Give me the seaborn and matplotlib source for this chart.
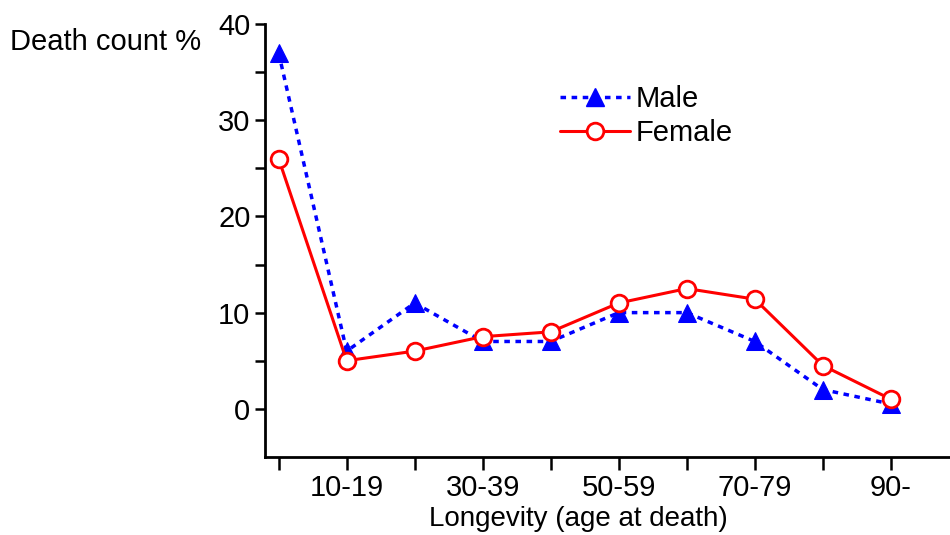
import matplotlib
matplotlib.use("Agg")
import matplotlib.pyplot as plt
import seaborn as sns
import pandas as pd
from matplotlib.lines import Line2D

categories = ["0-9", "10-19", "20-29", "30-39", "40-49", "50-59", "60-69", "70-79", "80-89", "90-"]
male = [37, 6, 11, 7, 7, 10, 10, 7, 2, 0.5]
female = [26, 5, 6, 7.5, 8, 11, 12.5, 11.4, 4.5, 1]
tick_labels = ["", "10-19", "", "30-39", "", "50-59", "", "70-79", "", "90-"]
y_ticks = [0, 10, 20, 30, 40]

sns.set_style("ticks")
plt.rcParams['font.family'] = ['Liberation Sans', 'DejaVu Sans']
plt.rcParams['text.color'] = 'black'
plt.rcParams['axes.labelcolor'] = 'black'

df = pd.DataFrame({
    "Longevity": categories * 2,
    "Death": male + female,
    "Sex": ["Male"] * len(categories) + ["Female"] * len(categories),
})

fig = plt.figure(figsize=(9.5, 5.35), dpi=100)
ax = fig.add_axes([0.279, 0.146, 0.721, 0.809])

sns.lineplot(data=df[df.Sex == "Male"], x="Longevity", y="Death", ax=ax,
             color="#0000ff", linewidth=2.5, linestyle=(0, (1.6, 1.6)),
             marker="^", markersize=13, markeredgecolor="#0000ff",
             markerfacecolor="#0000ff", sort=False, legend=False)
sns.lineplot(data=df[df.Sex == "Female"], x="Longevity", y="Death", ax=ax,
             color="#ff0000", linewidth=2.2, linestyle="-",
             marker="o", markersize=12, markeredgecolor="#ff0000",
             markerfacecolor="white", markeredgewidth=2, sort=False, legend=False)

ax.set_ylim(-5, 40)
ax.set_xlim(-0.2, 9.87)
ax.set_yticks(y_ticks)
ax.set_yticks([5, 15, 25, 35], minor=True)
ax.set_xticks(range(len(categories)))
ax.set_xticklabels(tick_labels, fontsize=21)
ax.tick_params(axis="both", which="both", direction="out", length=7, width=1.8,
               color="black", labelcolor="black")
ax.tick_params(axis="y", which="both", labelsize=21)
ax.tick_params(axis="x", length=9, pad=3)
for s in ["top", "right"]:
    ax.spines[s].set_visible(False)
for s in ["left", "bottom"]:
    ax.spines[s].set_linewidth(2)
    ax.spines[s].set_color("black")
ax.set_xlabel("Longevity (age at death)", fontsize=20, color="black")
ax.xaxis.set_label_coords(0.457, -0.113)
ax.set_ylabel("")

fig.text(0.01, 1 - 42 / 535, "Death count %", fontsize=21, va="center", ha="left", color="black")

handles = [
    Line2D([], [], color="#0000ff", linewidth=2.5, linestyle=(0, (1.6, 1.6)),
           marker="^", markersize=13, markerfacecolor="#0000ff"),
    Line2D([], [], color="#ff0000", linewidth=2.2, marker="o", markersize=12,
           markerfacecolor="white", markeredgewidth=2),
]
leg = ax.legend(handles, ["Male", "Female"], loc="upper left", bbox_to_anchor=(0.413, 0.886),
                frameon=False, handlelength=2.4, handletextpad=0.2, labelspacing=0.2,
                fontsize=21, borderaxespad=0)
for t in leg.get_texts():
    t.set_color("black")

fig.savefig("out.png", dpi=100)
